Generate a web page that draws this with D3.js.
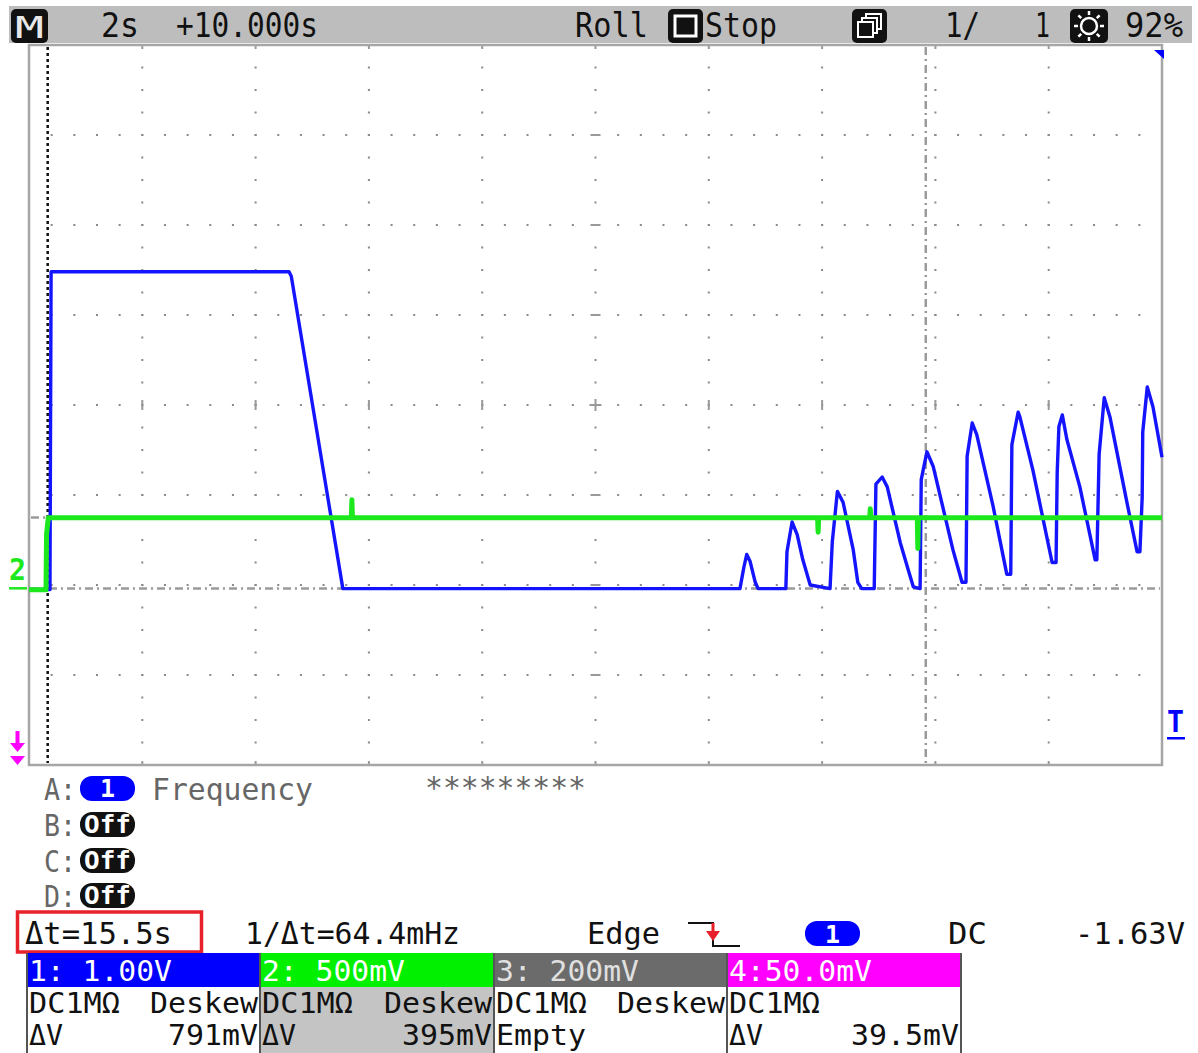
<!DOCTYPE html>
<html>
<head>
<meta charset="utf-8">
<script src="https://cdn.jsdelivr.net/npm/d3@7"></script>
<style>
  body { margin: 0; background: #ffffff; }
  svg { display: block; }
  text { font-family: "DejaVu Sans Mono", "Liberation Mono", monospace; }
</style>
</head>
<body>
<svg id="scope" width="1198" height="1053"></svg>
<script>
// ---- Acquisition setup ----
const timeDomain = [0, 20];          // 2 s/div x 10 div, roll mode record
const ch1VoltsPerDiv = 1.0;
const ch1Center = 2.04;              // volts at screen centre (ground 2.04 div below)
const ch2VoltsPerDiv = 0.5;
const ch2Center = 1.017;

// ---- Channel 1 (blue) trace: time [s] and level [V] ----
const ch1Time = [
  0.00, 0.37, 0.39, 4.59, 4.63, 5.54, 12.55,
  12.62, 12.67, 12.73, 12.82, 12.87,
  13.36, 13.38, 13.47, 13.56, 13.66, 13.79, 14.14,
  14.18, 14.27, 14.37, 14.55, 14.63, 14.70, 14.92,
  14.95, 15.06, 15.15, 15.38, 15.52, 15.61, 15.73,
  15.75, 15.85, 15.96, 16.31, 16.47, 16.54,
  16.56, 16.65, 16.73, 17.02, 17.26, 17.33,
  17.35, 17.46, 17.49, 17.72, 18.06, 18.13,
  18.15, 18.18, 18.24, 18.32, 18.55, 18.82, 18.85,
  18.89, 18.98, 19.08, 19.38, 19.56, 19.61,
  19.65, 19.66, 19.74, 19.84, 20.00
];
const ch1Volt = [
  -0.01, -0.01, 3.52, 3.52, 3.47, 0.00, 0.00,
  0.24, 0.38, 0.30, 0.07, 0.00,
  0.00, 0.41, 0.74, 0.60, 0.32, 0.04, 0.00,
  0.52, 1.08, 0.96, 0.43, 0.07, 0.00, 0.00,
  1.16, 1.24, 1.13, 0.51, 0.21, 0.02, 0.00,
  1.21, 1.52, 1.36, 0.43, 0.07, 0.07,
  1.47, 1.84, 1.71, 0.91, 0.16, 0.16,
  1.60, 1.96, 1.91, 1.32, 0.29, 0.29,
  1.29, 1.80, 1.93, 1.66, 1.13, 0.32, 0.32,
  1.49, 2.12, 1.91, 0.96, 0.41, 0.41,
  1.01, 1.74, 2.24, 2.02, 1.46
];

// ---- Channel 2 (green) trace ----
const ch2Time = [0.00, 0.30, 0.31, 0.34, 5.69, 5.70, 5.71, 13.92, 13.93, 13.94,
                 14.84, 14.85, 14.86, 15.68, 15.69, 15.70, 20.00];
const ch2Volt = [-0.01, -0.01, 0.30, 0.39, 0.39, 0.49, 0.39, 0.39, 0.31, 0.39,
                 0.39, 0.44, 0.39, 0.39, 0.22, 0.39, 0.39];

// ---- Cursors (time in s, level in ch1 volts) ----
const cursorTimes = [0.33, 15.83];
const cursorVolts = [0.0, 0.791];

// ---- Readouts ----
const topLabels = ["2s", "+10.000s", "Roll", "Stop", "1/", "1", "92%"];
const measureSlots = ["A:", "B:", "C:", "D:"];
const measureItem = "Frequency";
const measureValue = "*********";
const cursorReadouts = ["Δt=15.5s", "1/Δt=64.4mHz"];
const triggerReadouts = ["Edge", "1", "DC", "-1.63V"];
const channelNames = ["1: 1.00V", "2: 500mV", "3: 200mV", "4:50.0mV"];
const channelCoupling = ["DC1MΩ", "DC1MΩ", "DC1MΩ", "DC1MΩ"];
const channelDeskew = ["Deskew", "Deskew", "Deskew", ""];
const channelReadLabel = ["ΔV", "ΔV", "Empty", "ΔV"];
const channelReadValue = ["791mV", "395mV", "", "39.5mV"];

// ---- Styles ----
const headerFill = ["#0000ff", "#00f000", "#6b6b6b", "#ff00ff"];
const headerText = ["#ffffff", "#ffffff", "#e0e0e0", "#ffffff"];
const bodyFill = ["#ffffff", "#c4c4c4", "#ffffff", "#ffffff"];

const svg = d3.select("#scope");
const plot = { left: 29, right: 1162, top: 45, bottom: 765 };

const x = d3.scaleLinear().domain(timeDomain).range([plot.left, plot.right]);
const y1 = d3.scaleLinear()
  .domain([ch1Center - 4 * ch1VoltsPerDiv, ch1Center + 4 * ch1VoltsPerDiv])
  .range([plot.bottom, plot.top]);
const y2 = d3.scaleLinear()
  .domain([ch2Center - 4 * ch2VoltsPerDiv, ch2Center + 4 * ch2VoltsPerDiv])
  .range([plot.bottom, plot.top]);
// graticule division scales
const gx = d3.scaleLinear().domain([0, 10]).range([plot.left, plot.right]);
const gy = d3.scaleLinear().domain([-4, 4]).range([plot.bottom, plot.top]);

// text placed between x0 and x1 on a baseline, stretched to fit like the bitmap font
function label(g, str, x0, x1, base, opts = {}) {
  const t = g.append("text")
    .attr("x", x0).attr("y", base)
    .attr("font-size", opts.size || 33)
    .attr("fill", opts.fill || "#111")
    .attr("font-weight", opts.weight || "normal")
    .text(str);
  if (x1 != null) t.attr("textLength", x1 - x0).attr("lengthAdjust", "spacingAndGlyphs");
  return t;
}

// ---------------- Top status bar ----------------
const topBar = svg.append("g");
topBar.append("rect").attr("x", 9).attr("y", 6).attr("width", 1183).attr("height", 37).attr("fill", "#bdbdbd");
topBar.append("rect").attr("x", 11).attr("y", 9).attr("width", 37).attr("height", 34).attr("rx", 5).attr("fill", "#111");
label(topBar, "M", 15, 44, 38, { fill: "#e8e8e8", size: 31 });
label(topBar, topLabels[0], 101, 139, 37);
label(topBar, topLabels[1], 176, 318, 37);
label(topBar, topLabels[2], 575, 648, 37);
// stop icon
topBar.append("rect").attr("x", 668).attr("y", 9).attr("width", 35).attr("height", 34).attr("rx", 5).attr("fill", "#111");
topBar.append("rect").attr("x", 675).attr("y", 16).attr("width", 21).attr("height", 20).attr("fill", "none").attr("stroke", "#fff").attr("stroke-width", 3);
label(topBar, topLabels[3], 705, 777, 37);
// overlay icon
topBar.append("rect").attr("x", 852).attr("y", 9).attr("width", 35).attr("height", 34).attr("rx", 5).attr("fill", "#111");
[[866, 14], [862, 18], [858, 22]].forEach(([a, b]) =>
  topBar.append("rect").attr("x", a).attr("y", b).attr("width", 15).attr("height", 15)
    .attr("fill", "#111").attr("stroke", "#fff").attr("stroke-width", 2));
label(topBar, topLabels[4], 945, 980, 37);
label(topBar, topLabels[5], 1035, 1050, 37);
// brightness icon
topBar.append("rect").attr("x", 1070).attr("y", 9).attr("width", 38).attr("height", 34).attr("rx", 5).attr("fill", "#111");
topBar.append("circle").attr("cx", 1089).attr("cy", 26).attr("r", 8).attr("fill", "none").attr("stroke", "#fff").attr("stroke-width", 2.5);
d3.range(8).forEach(i => {
  const a = i * Math.PI / 4;
  topBar.append("line")
    .attr("x1", 1089 + 11 * Math.cos(a)).attr("y1", 26 + 11 * Math.sin(a))
    .attr("x2", 1089 + 15 * Math.cos(a)).attr("y2", 26 + 15 * Math.sin(a))
    .attr("stroke", "#fff").attr("stroke-width", 2.5);
});
label(topBar, topLabels[6], 1125, 1183, 37);

// ---------------- Graticule ----------------
const grid = svg.append("g");
const dotColor = "#8a8a8a";
const dots = [];
for (let k = -3; k <= 3; k++) for (let i = 1; i < 50; i++) dots.push([gx(i / 5), gy(k)]);
for (let i = 1; i < 10; i++) for (let j = -15; j <= 15; j++) dots.push([gx(i), gy(j / 4)]);
grid.selectAll("rect.dot").data(dots).join("rect").attr("class", "dot")
  .attr("x", d => d[0] - 1).attr("y", d => d[1] - 1)
  .attr("width", 2).attr("height", 2).attr("fill", dotColor);
// centre axis tick marks
const cx = d3.range(1, 10).filter(i => i !== 5);
grid.selectAll("rect.vt").data(cx).join("rect").attr("class", "vt")
  .attr("x", i => gx(i) - 1).attr("y", gy(0) - 5).attr("width", 2).attr("height", 10).attr("fill", "#999");
const cy = d3.range(-3, 4).filter(k => k !== 0);
grid.selectAll("rect.ht").data(cy).join("rect").attr("class", "ht")
  .attr("x", gx(5) - 5).attr("y", k => gy(k) - 1).attr("width", 10).attr("height", 2).attr("fill", "#999");
grid.append("rect").attr("x", gx(5) - 6).attr("y", gy(0) - 1).attr("width", 12).attr("height", 2).attr("fill", "#999");
grid.append("rect").attr("x", gx(5) - 1).attr("y", gy(0) - 6).attr("width", 2).attr("height", 12).attr("fill", "#999");
// border ticks
grid.selectAll("rect.tt").data(d3.range(1, 10)).join("rect").attr("class", "tt")
  .attr("x", i => gx(i) - 1).attr("y", plot.top).attr("width", 2).attr("height", 4).attr("fill", "#999");
grid.selectAll("rect.bt").data(d3.range(1, 10)).join("rect").attr("class", "bt")
  .attr("x", i => gx(i) - 1).attr("y", plot.bottom - 4).attr("width", 2).attr("height", 4).attr("fill", "#999");

// frame
svg.append("rect")
  .attr("x", plot.left).attr("y", plot.top)
  .attr("width", plot.right - plot.left).attr("height", plot.bottom - plot.top)
  .attr("fill", "none").attr("stroke", "#a6a6a6").attr("stroke-width", 2.5);

// ---------------- Cursors ----------------
const cur = svg.append("g");
cur.append("line")
  .attr("x1", x(cursorTimes[0])).attr("x2", x(cursorTimes[0]))
  .attr("y1", plot.top + 2).attr("y2", plot.bottom - 2)
  .attr("stroke", "#111").attr("stroke-width", 2.5).attr("stroke-dasharray", "3,3");
cur.append("line")
  .attr("x1", x(cursorTimes[1])).attr("x2", x(cursorTimes[1]))
  .attr("y1", plot.top + 2).attr("y2", plot.bottom - 2)
  .attr("stroke", "#9a9a9a").attr("stroke-width", 2.5).attr("stroke-dasharray", "8,4,2,4");
cur.selectAll("line.hc").data(cursorVolts).join("line").attr("class", "hc")
  .attr("x1", plot.left + 2).attr("x2", plot.right - 2)
  .attr("y1", v => y1(v)).attr("y2", v => y1(v))
  .attr("stroke", "#9a9a9a").attr("stroke-width", 2.5).attr("stroke-dasharray", "8,4,2,4");

// ---------------- Traces ----------------
const ch1 = ch1Time.map((t, i) => [t, ch1Volt[i]]);
const ch2 = ch2Time.map((t, i) => [t, ch2Volt[i]]);
svg.append("path").datum(ch1)
  .attr("d", d3.line().x(d => x(d[0])).y(d => y1(d[1])))
  .attr("fill", "none").attr("stroke", "#1414ff").attr("stroke-width", 3.4)
  .attr("stroke-linejoin", "round");
svg.append("path").datum(ch2)
  .attr("d", d3.line().x(d => x(d[0])).y(d => y2(d[1])))
  .attr("fill", "none").attr("stroke", "#1de81d").attr("stroke-width", 5)
  .attr("stroke-linejoin", "round");

// ---------------- Screen-edge markers ----------------
const mk = svg.append("g");
// channel 2 ground marker
label(mk, "2", 9, 26, 580, { fill: "#1de81d", weight: "bold", size: 30 });
mk.append("rect").attr("x", 9).attr("y", y2(0) - 1).attr("width", 18).attr("height", 2.5).attr("fill", "#1de81d");
// channel 4 off-screen marker
mk.append("rect").attr("x", 15.5).attr("y", 731).attr("width", 4).attr("height", 13).attr("fill", "#ff00ff");
mk.append("path").attr("d", "M10,743 L25,743 L17.5,752 Z").attr("fill", "#ff00ff");
mk.append("path").attr("d", "M10,756 L25,756 L17.5,765 Z").attr("fill", "#ff00ff");
// trigger position marker
label(mk, "T", 1167, 1184, 732, { fill: "#0000ff", weight: "bold", size: 30 });
mk.append("rect").attr("x", 1167).attr("y", 737).attr("width", 18).attr("height", 2.5).attr("fill", "#0000ff");
mk.append("path").attr("d", "M1154,50 L1164,50 L1164,59 Z").attr("fill", "#0000ff");

// ---------------- Measurement area ----------------
const meas = svg.append("g");
const slotBase = [800, 836, 872, 907];
measureSlots.forEach((s, i) => {
  label(meas, s, 44, 76, slotBase[i], { fill: "#666", size: 31 });
  const pillY = slotBase[i] - 24;
  meas.append("rect").attr("x", 80).attr("y", pillY).attr("width", 55).attr("height", 25)
    .attr("rx", 12).attr("fill", i === 0 ? "#0000ff" : "#111");
  if (i === 0) label(meas, "1", 100, 115, slotBase[i] - 3, { fill: "#fff", weight: "bold", size: 24 });
  else label(meas, "Off", 84, 131, slotBase[i] - 3, { fill: "#fff", weight: "bold", size: 25 });
});
label(meas, measureItem, 152, 313, 800, { fill: "#666", size: 31 });
label(meas, measureValue, 425, 586, 798, { fill: "#666", size: 30 });

// cursor readouts
meas.append("rect").attr("x", 17.5).attr("y", 912).attr("width", 184).attr("height", 40)
  .attr("fill", "none").attr("stroke", "#e8202a").attr("stroke-width", 3.5);
label(meas, cursorReadouts[0], 25, 172, 944, { size: 31 });
label(meas, cursorReadouts[1], 245, 460, 944, { size: 31 });

// trigger readouts
label(meas, triggerReadouts[0], 587, 660, 944, { size: 31 });
meas.append("path").attr("d", "M688,923 L713,923 L713,946 L740,946")
  .attr("fill", "none").attr("stroke", "#111").attr("stroke-width", 2);
meas.append("rect").attr("x", 711.5).attr("y", 923).attr("width", 3).attr("height", 14).attr("fill", "#e8202a");
meas.append("path").attr("d", "M706,931 L720,931 L713,941 Z").attr("fill", "#e8202a");
meas.append("rect").attr("x", 805).attr("y", 921).attr("width", 55).attr("height", 25)
  .attr("rx", 12).attr("fill", "#0000ff");
label(meas, triggerReadouts[1], 825, 840, 943, { fill: "#fff", weight: "bold", size: 24 });
label(meas, triggerReadouts[2], 948, 987, 944, { size: 31 });
label(meas, triggerReadouts[3], 1075, 1185, 944, { size: 31 });

// channel setup boxes
const boxX = [27, 260, 494, 727, 961];
const boxSize = 29;
channelNames.forEach((name, i) => {
  const x0 = boxX[i], x1 = boxX[i + 1];
  meas.append("rect").attr("x", x0).attr("y", 953).attr("width", x1 - x0).attr("height", 34).attr("fill", headerFill[i]);
  meas.append("rect").attr("x", x0).attr("y", 987).attr("width", x1 - x0).attr("height", 66).attr("fill", bodyFill[i]);
  label(meas, name, x0 + 2, x0 + 145, 981, { fill: headerText[i], size: boxSize });
  label(meas, channelCoupling[i], x0 + 2, x0 + 93, 1013, { size: boxSize });
  if (channelDeskew[i]) label(meas, channelDeskew[i], x1 - 110, x1 - 2, 1013, { size: boxSize });
  const rl = channelReadLabel[i];
  label(meas, rl, x0 + 2, x0 + 2 + (rl.length === 2 ? 34 : 90), 1045, { size: boxSize });
  const rv = channelReadValue[i];
  if (rv) label(meas, rv, x1 - 2 - rv.length * 18, x1 - 2, 1045, { size: boxSize });
});
meas.selectAll("line.sep").data(boxX).join("line").attr("class", "sep")
  .attr("x1", d => d).attr("x2", d => d).attr("y1", 953).attr("y2", 1053)
  .attr("stroke", "#555").attr("stroke-width", 2);
</script>
</body>
</html>
